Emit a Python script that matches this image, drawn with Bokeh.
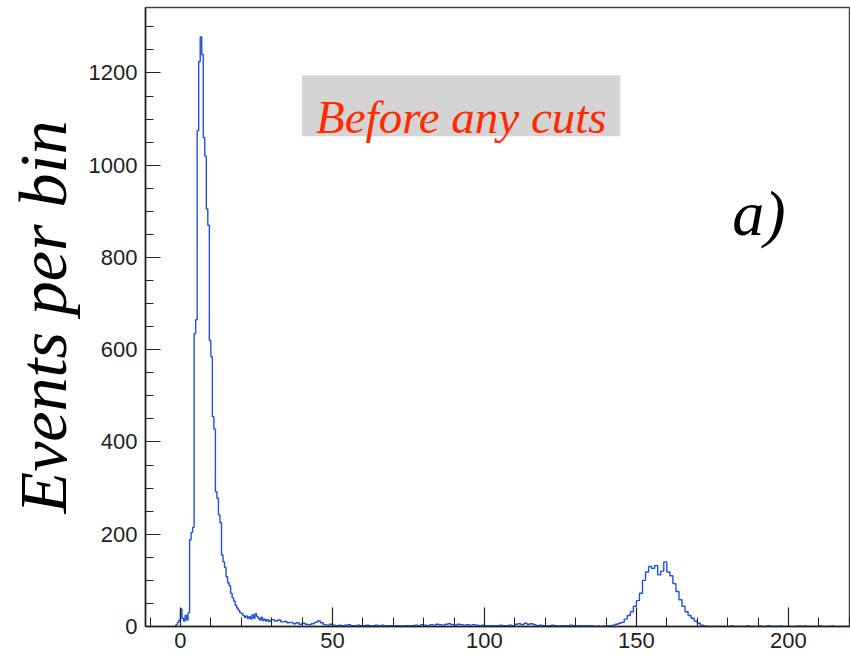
import numpy as np
from bokeh.plotting import figure
from bokeh.models import Range1d, Label, BoxAnnotation, SingleIntervalTicker
from bokeh.embed import file_html
from bokeh.resources import INLINE

# ---- data -------------------------------------------------------------
# fine bins (0.5 wide) covering the main peak, starting at -2
fine_start = -2.0
fine_width = 0.5
fine_counts = [
    0, 4, 9, 14, 38, 18, 12, 24, 14, 30,
    188, 204, 215, 635, 665, 1075, 1225, 1278, 1240, 1060,
    1020, 905, 870, 620, 585, 455, 428, 292, 278, 242,
    225, 155, 140, 128, 108, 95, 88, 72, 62, 55,
    46, 40, 35, 30, 28, 24, 20, 23, 18, 21,
    16, 25, 18, 28, 22, 18, 14, 20, 13, 16,
    12, 15, 11, 13,
]
# coarse bins (1 wide) from 30 to 220
coarse_start = 30.0
coarse_width = 1.0
coarse_counts = [
    15, 12, 14, 10, 11, 8, 9, 6, 8, 5,
    7, 5, 4, 6, 9, 12, 8, 4, 3, 5,
    3, 2, 3, 2, 3, 4, 2, 2, 3, 2,
    2, 3, 2, 1, 3, 2, 3, 1, 2, 2,
    1, 2, 1, 1, 2, 1, 2, 3, 2, 4,
    3, 2, 4, 3, 5, 4, 3, 5, 6, 4,
    3, 5, 4, 3, 4, 3, 4, 3, 2, 3,
    2, 1, 2, 1, 2, 3, 2, 1, 3, 2,
    5, 6, 4, 7, 5, 6, 4, 2, 3, 2,
    1, 2, 3, 2, 1, 2, 1, 2, 3, 2,
    1, 2, 1, 1, 2, 1, 0, 1, 0, 1,
    2, 1, 3, 5, 7, 9, 16, 24, 32, 44,
    56, 72, 100, 118, 130, 126, 132, 112, 120, 140,
    118, 110, 93, 76, 58, 44, 32, 24, 18, 12,
    7, 3, 1, 0, 0, 0, 0, 0, 0, 0,
    0, 1, 0, 0, 0, 0, 1, 0, 0, 0,
    1, 0, 0, 2, 0, 0, 0, 1, 0, 0,
    0, 0, 0, 1, 0, 1, 0, 0, 0, 0,
    1, 0, 0, 0, 1, 0, 0, 0, 0, 0,
]

x_range = (-11.5, 220.1)
y_range = (0, 1342)

title_text = "Before any cuts"
panel_text = "a)"
y_title = "Events per bin"

# ---- build histogram step line ----------------------------------------
fine_edges = fine_start + fine_width * np.arange(len(fine_counts))
coarse_edges = coarse_start + coarse_width * np.arange(len(coarse_counts))
xs = list(fine_edges) + list(coarse_edges)
ys = list(fine_counts) + list(coarse_counts)
xs.append(coarse_start + coarse_width * len(coarse_counts))
ys.append(coarse_counts[-1])

p = figure(width=850, height=660, output_backend="svg", toolbar_location=None,
           x_range=Range1d(*x_range), y_range=Range1d(*y_range),
           min_border_left=145, min_border_right=1, min_border_top=7,
           min_border_bottom=34)
p.background_fill_color = "white"
p.border_fill_color = "white"
p.xgrid.visible = False
p.ygrid.visible = False
p.outline_line_color = "#444444"
p.outline_line_width = 1.5

p.step(xs, ys, mode="after", line_color="#1f52d6", line_width=1.4)

# axes
p.xaxis.ticker = SingleIntervalTicker(interval=50, num_minor_ticks=5)
p.yaxis.ticker = SingleIntervalTicker(interval=200, num_minor_ticks=4)
for ax in (p.xaxis, p.yaxis):
    ax.axis_line_color = "#222222"
    ax.axis_line_width = 1.5
    ax.major_tick_line_color = "#222222"
    ax.minor_tick_line_color = "#222222"
    ax.major_tick_line_width = 1.2
    ax.minor_tick_line_width = 1.0
    ax.major_tick_out = 0
    ax.minor_tick_out = 0
    ax.major_label_text_font = "Liberation Sans"
    ax.major_label_text_font_size = "22px"
    ax.major_label_text_color = "#222222"
p.xaxis.major_tick_in = 19
p.xaxis.minor_tick_in = 9
p.yaxis.major_tick_in = 15
p.yaxis.minor_tick_in = 8
p.xaxis.major_label_standoff = 6
p.yaxis.major_label_standoff = 8

p.yaxis.axis_label = y_title
p.yaxis.axis_label_text_font = "Liberation Serif"
p.yaxis.axis_label_text_font_style = "italic"
p.yaxis.axis_label_text_font_size = "68px"
p.yaxis.axis_label_text_color = "black"
p.yaxis.axis_label_standoff = 5

# annotations
p.add_layout(BoxAnnotation(left=40.0, right=144.7, top=1195, bottom=1063,
                           fill_color="#d4d4d4", fill_alpha=1.0, line_color=None))
p.add_layout(Label(x=92.4, y=1105, text=title_text, text_align="center",
                   text_baseline="alphabetic", text_font="Liberation Serif",
                   text_font_style="italic", text_font_size="47px",
                   text_color="#ff2a00"))
p.add_layout(Label(x=181.5, y=896, text=panel_text, text_align="left",
                   text_baseline="alphabetic", text_font="Liberation Serif",
                   text_font_style="italic", text_font_size="64px",
                   text_color="black"))

open("out.html", "w").write(file_html(p, INLINE))
